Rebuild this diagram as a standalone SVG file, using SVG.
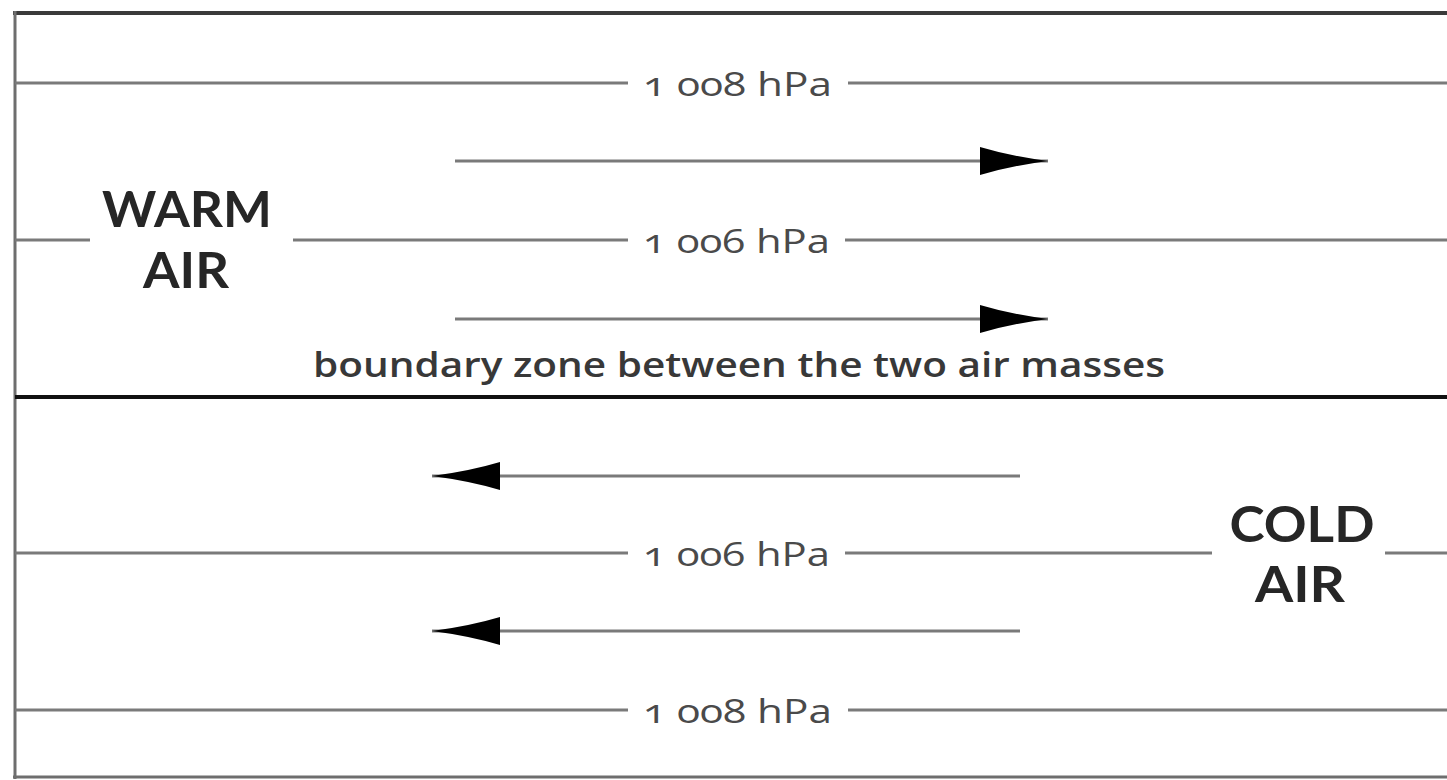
<svg xmlns="http://www.w3.org/2000/svg" width="1447" height="780" viewBox="0 0 1447 780">
  <style>
    .isobar { stroke: #7a7a7a; stroke-width: 3; fill: none; }
    .frame { stroke: #6e6e6e; stroke-width: 3; fill: none; }
    .flow { stroke: #7a7a7a; stroke-width: 3; fill: none; }
    .front { stroke: #111; stroke-width: 4; fill: none; }
    .hpa { font-family: "Open Sans", "Liberation Sans", sans-serif; font-size: 33px; font-weight: 500; fill: #4a4a4a; font-variant-numeric: oldstyle-nums; }
    .mass { font-family: Lato, "Open Sans", sans-serif; font-size: 50px; font-weight: 700; fill: #262626; text-anchor: middle; }
    .note { font-family: "Open Sans", "Liberation Sans", sans-serif; font-size: 34px; font-weight: 600; fill: #383838; }
  </style>
  <defs>
    <marker id="head" viewBox="0 0 70 32" refX="68" refY="16" markerWidth="70" markerHeight="32" markerUnits="userSpaceOnUse" orient="auto">
      <path d="M0,2 Q30,11 68,16 Q30,21 0,30 Z" fill="#000"/>
    </marker>
  </defs>
  <rect width="1447" height="780" fill="#fff"/>

  <!-- outer frame -->
  <g id="frame">
    <line x1="13" y1="13" x2="1447" y2="13" stroke="#3a3a3a" stroke-width="4"/>
    <line x1="15" y1="11" x2="15" y2="779" class="frame"/>
    <line x1="13" y1="777" x2="1447" y2="777" class="frame"/>
  </g>

  <!-- isobars -->
  <g id="isobar-1008-top">
    <line x1="15" y1="83" x2="628" y2="83" class="isobar"/>
    <line x1="848" y1="83" x2="1447" y2="83" class="isobar"/>
    <text x="643" y="96" class="hpa" textLength="189" lengthAdjust="spacingAndGlyphs">1 008 hPa</text>
  </g>
  <g id="isobar-1006-top">
    <line x1="15" y1="240" x2="90" y2="240" class="isobar"/>
    <line x1="293" y1="240" x2="628" y2="240" class="isobar"/>
    <line x1="845" y1="240" x2="1447" y2="240" class="isobar"/>
    <text x="643" y="253" class="hpa" textLength="187" lengthAdjust="spacingAndGlyphs">1 006 hPa</text>
  </g>
  <g id="isobar-1006-bottom">
    <line x1="15" y1="553" x2="628" y2="553" class="isobar"/>
    <line x1="845" y1="553" x2="1212" y2="553" class="isobar"/>
    <line x1="1385" y1="553" x2="1447" y2="553" class="isobar"/>
    <text x="643" y="566" class="hpa" textLength="187" lengthAdjust="spacingAndGlyphs">1 006 hPa</text>
  </g>
  <g id="isobar-1008-bottom">
    <line x1="15" y1="710" x2="628" y2="710" class="isobar"/>
    <line x1="848" y1="710" x2="1447" y2="710" class="isobar"/>
    <text x="643" y="723" class="hpa" textLength="189" lengthAdjust="spacingAndGlyphs">1 008 hPa</text>
  </g>

  <!-- boundary between the air masses -->
  <g id="boundary">
    <line x1="15" y1="397" x2="1447" y2="397" class="front"/>
    <text x="313" y="377" class="note" textLength="852" lengthAdjust="spacingAndGlyphs">boundary zone between the two air masses</text>
  </g>

  <!-- air mass labels -->
  <g id="warm-air">
    <text x="187" y="227" class="mass" textLength="170" lengthAdjust="spacingAndGlyphs">WARM</text>
    <text x="186" y="288" class="mass" textLength="86" lengthAdjust="spacingAndGlyphs">AIR</text>
  </g>
  <g id="cold-air">
    <text x="1302" y="542" class="mass" textLength="145" lengthAdjust="spacingAndGlyphs">COLD</text>
    <text x="1300" y="602" class="mass" textLength="90" lengthAdjust="spacingAndGlyphs">AIR</text>
  </g>

  <!-- wind arrows -->
  <g id="connectors">
    <line x1="455" y1="161" x2="1048" y2="161" class="flow" marker-end="url(#head)"/>
    <line x1="455" y1="319" x2="1048" y2="319" class="flow" marker-end="url(#head)"/>
    <line x1="1020" y1="476" x2="432" y2="476" class="flow" marker-end="url(#head)"/>
    <line x1="1020" y1="631" x2="432" y2="631" class="flow" marker-end="url(#head)"/>
  </g>
</svg>
